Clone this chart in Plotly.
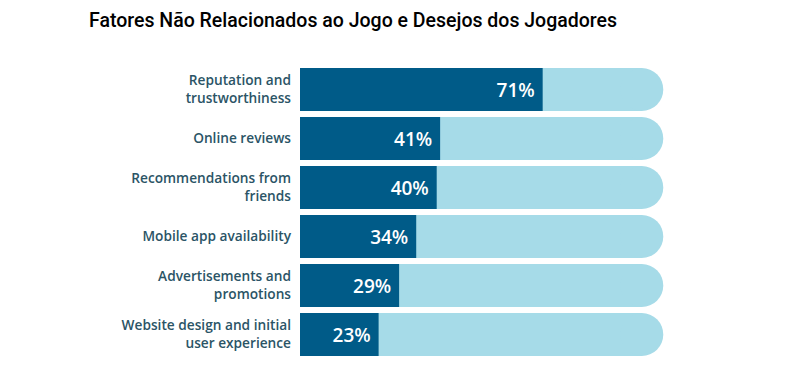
import plotly.graph_objects as go

categories = [
    "Reputation and<br>trustworthiness",
    "Online reviews",
    "Recommendations from<br>friends",
    "Mobile app availability",
    "Advertisements and<br>promotions",
    "Website design and initial<br>user experience",
]
values = [71, 41, 40, 34, 29, 23]
full = [100] * len(categories)

dark = "#005b88"
light = "#a6dbe8"

W, H = 779, 357

fig = go.Figure()
fig.add_trace(go.Bar(
    x=full, y=categories, orientation="h", marker=dict(color=light, line=dict(width=0)),
    width=0.88, hoverinfo="skip", showlegend=False,
))
fig.add_trace(go.Scatter(
    x=full, y=categories, mode="markers",
    marker=dict(symbol="circle", size=43, color=light, line=dict(width=0)),
    hoverinfo="skip", showlegend=False, cliponaxis=False,
))
fig.add_trace(go.Bar(
    x=values, y=categories, orientation="h", marker=dict(color=dark, line=dict(width=0)),
    width=0.88, text=values, texttemplate="%{x}%\u00a0",
    textposition="inside", insidetextanchor="end", constraintext="none",
    textfont=dict(color="white", size=19, family="Open Sans", weight=600),
    showlegend=False,
))

fig.update_layout(
    width=W, height=H,
    barmode="overlay",
    plot_bgcolor="white", paper_bgcolor="white",
    margin=dict(l=292, r=123, t=57, b=6, autoexpand=False),
    title=dict(
        text="Fatores Não Relacionados ao Jogo e Desejos dos Jogadores",
        x=81 / W, xref="container", xanchor="left",
        y=1 - 12 / H, yref="container", yanchor="middle",
        font=dict(family="Roboto", size=19.5, color="black", weight=500),
    ),
    xaxis=dict(range=[0, 106.5], visible=False, fixedrange=True, automargin=False),
    yaxis=dict(
        range=[5.5, -0.5], showgrid=False, zeroline=False, showline=False,
        ticks="", ticklabelstandoff=8, automargin=False,
        tickfont=dict(family="Open Sans", size=13.7, color="#2b5466", weight=600),
    ),
)

fig.write_html("out.html")
